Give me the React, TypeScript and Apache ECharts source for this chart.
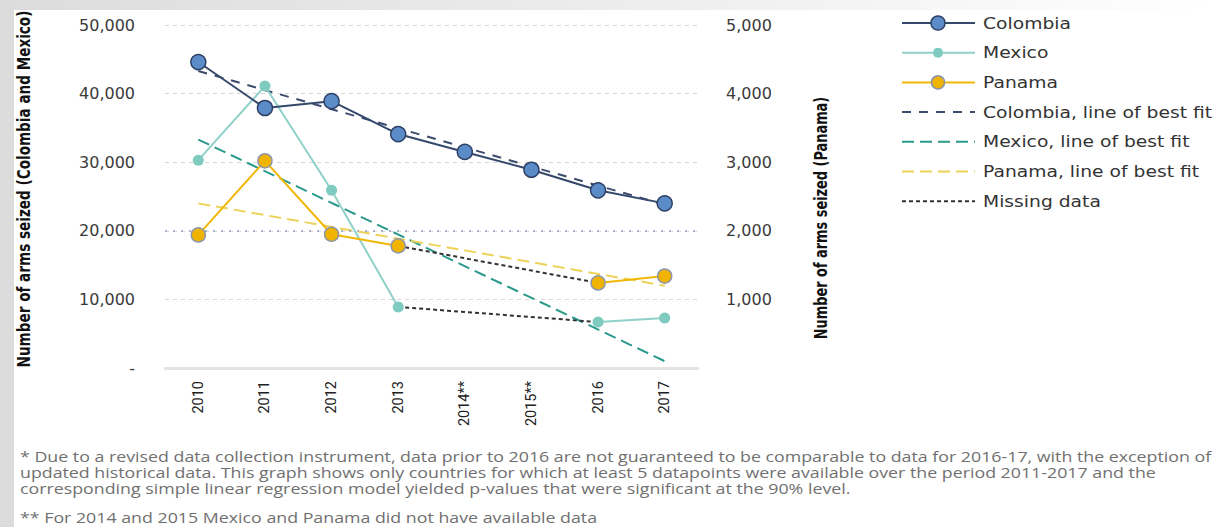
import React, { useEffect, useRef } from "react";
import * as echarts from "echarts";

const years = ["2010", "2011", "2012", "2013", "2014**", "2015**", "2016", "2017"];
const colombia = [44600, 37900, 38900, 34100, 31500, 28900, 25900, 24000];
const mexico = [30300, 41100, 25900, 8900, null, null, 6700, 7300];
const panama = [1940, 3020, 1950, 1780, null, null, 1240, 1340];
const colombiaFit = [43300, null, null, null, null, null, null, 23800];
const mexicoFit = [33300, null, null, null, null, null, null, 1000];
const panamaFit = [2400, null, null, null, null, null, null, 1200];
const mexicoMissing = [null, null, null, 8900, null, null, 6700, null];
const panamaMissing = [null, null, null, 1780, null, null, 1240, null];

const leftTicks = [0, 10000, 20000, 30000, 40000, 50000];

const legendItems = [
  { name: "Colombia", kind: "colombia" },
  { name: "Mexico", kind: "mexico" },
  { name: "Panama", kind: "panama" },
  { name: "Colombia, line of best fit", kind: "cfit" },
  { name: "Mexico, line of best fit", kind: "mfit" },
  { name: "Panama, line of best fit", kind: "pfit" },
  { name: "Missing data", kind: "missing" },
];

const footnotes = [
  "* Due to a revised data collection instrument, data prior to 2016 are not guaranteed to be comparable to data for 2016-17, with the exception of",
  "updated historical data. This graph shows only countries for which at least 5 datapoints were available over the period 2011-2017 and the",
  "corresponding simple linear regression model yielded p-values that were significant at the 90% level.",
  "** For 2014 and 2015 Mexico and Panama did not have available data",
];

const C = {
  colLine: "#34486b",
  colFill: "#5b8cc8",
  colBorder: "#2d4066",
  mexLine: "#8fd0c8",
  mexFill: "#7fcbc0",
  panLine: "#f2b705",
  panFill: "#f0b400",
  panBorder: "#8c95aa",
  colFit: "#3c4b6e",
  mexFit: "#2a9a8c",
  panFit: "#ecd35a",
  missing: "#333333",
};

const fmt = (v: number) => (v === 0 ? "-" : v.toLocaleString("en-US"));

export default function App() {
  const ref = useRef<HTMLDivElement>(null);
  useEffect(() => {
    if (!ref.current) return;
    const chart = echarts.init(ref.current, null, { renderer: "svg" });

    const legendGraphics: any[] = [];
    legendItems.forEach((it, i) => {
      const y = 23 + i * 29.7;
      let stroke = C.colLine;
      let dash: any = null;
      let circle: any = null;
      if (it.kind === "colombia") {
        stroke = C.colLine;
        circle = { r: 7, fill: C.colFill, stroke: C.colBorder, lw: 1.5 };
      } else if (it.kind === "mexico") {
        stroke = C.mexLine;
        circle = { r: 5, fill: C.mexFill, stroke: null, lw: 0 };
      } else if (it.kind === "panama") {
        stroke = C.panLine;
        circle = { r: 6.5, fill: C.panFill, stroke: C.panBorder, lw: 1.5 };
      } else if (it.kind === "cfit") {
        stroke = C.colFit;
        dash = [9, 8];
      } else if (it.kind === "mfit") {
        stroke = C.mexFit;
        dash = [12, 6];
      } else if (it.kind === "pfit") {
        stroke = C.panFit;
        dash = [12, 6];
      } else {
        stroke = C.missing;
        dash = [4, 3];
      }
      legendGraphics.push({
        type: "line",
        shape: { x1: 902, y1: y, x2: 975, y2: y },
        style: { stroke, lineWidth: 2, lineDash: dash || undefined },
      });
      if (circle) {
        legendGraphics.push({
          type: "circle",
          shape: { cx: 938, cy: y, r: circle.r },
          style: {
            fill: circle.fill,
            stroke: circle.stroke || undefined,
            lineWidth: circle.lw,
          },
        });
      }
      legendGraphics.push({
        type: "text",
        x: 983,
        y,
        scaleX: 1.17,
        style: {
          text: it.name,
          fill: "#333333",
          font: "16px 'DejaVu Sans'",
          verticalAlign: "middle",
          align: "left",
        },
      });
    });

    const footGraphics = footnotes.map((t, i) => ({
      type: "text",
      x: 20,
      y: i < 3 ? 457 + i * 16 : 518,
      scaleX: 1.27,
      style: {
        text: t,
        fill: "#707070",
        font: "14px 'Open Sans'",
        verticalAlign: "middle",
        align: "left",
      },
    }));

    const option: any = {
      animation: false,
      backgroundColor: "#ffffff",
      grid: { left: 165, right: 517, top: 25, bottom: 159 },
      xAxis: {
        type: "category",
        data: years,
        boundaryGap: true,
        axisTick: { show: false },
        axisLine: { show: true, lineStyle: { color: "#e4e4e4", width: 3 } },
        axisLabel: {
          rotate: 90,
          margin: 13,
          color: "#222222",
          fontFamily: "Roboto",
          fontSize: 14.5,
          interval: 0,
        },
      },
      yAxis: [
        {
          type: "value",
          min: 0,
          max: 50000,
          interval: 10000,
          axisLine: { show: false },
          axisTick: { show: false },
          splitLine: { show: true, lineStyle: { color: "#d6d6d6", type: [4, 4], width: 1 } },
          axisLabel: {
            margin: 30,
            color: "#3a3a3a",
            fontFamily: "'DejaVu Sans'",
            fontSize: 16,
            formatter: (v: number) => fmt(v),
          },
        },
        {
          type: "value",
          min: 0,
          max: 5000,
          interval: 1000,
          position: "right",
          axisLine: { show: false },
          axisTick: { show: false },
          splitLine: { show: false },
          axisLabel: {
            margin: 28,
            color: "#3a3a3a",
            fontFamily: "'DejaVu Sans'",
            fontSize: 16,
            formatter: (v: number) => (v === 0 ? "" : v.toLocaleString("en-US")),
          },
        },
      ],
      series: [
        {
          name: "Colombia, line of best fit",
          type: "line",
          data: colombiaFit,
          connectNulls: true,
          symbol: "none",
          yAxisIndex: 0,
          lineStyle: { color: C.colFit, width: 2, type: [9, 8] },
          markLine: {
            silent: true,
            symbol: "none",
            label: { show: false },
            lineStyle: { color: "#a9b3cb", type: [2, 6], width: 2 },
            data: [{ yAxis: leftTicks[2] }],
          },
          z: 2,
        },
        {
          name: "Mexico, line of best fit",
          type: "line",
          data: mexicoFit,
          connectNulls: true,
          symbol: "none",
          yAxisIndex: 0,
          lineStyle: { color: C.mexFit, width: 2, type: [12, 6] },
          z: 2,
        },
        {
          name: "Panama, line of best fit",
          type: "line",
          data: panamaFit,
          connectNulls: true,
          symbol: "none",
          yAxisIndex: 1,
          lineStyle: { color: C.panFit, width: 2, type: [12, 6] },
          z: 2,
        },
        {
          name: "Missing data",
          type: "line",
          data: mexicoMissing,
          connectNulls: true,
          symbol: "none",
          yAxisIndex: 0,
          lineStyle: { color: C.missing, width: 2, type: [4, 3] },
          z: 3,
        },
        {
          name: "Missing data",
          type: "line",
          data: panamaMissing,
          connectNulls: true,
          symbol: "none",
          yAxisIndex: 1,
          lineStyle: { color: C.missing, width: 2, type: [4, 3] },
          z: 3,
        },
        {
          name: "Mexico",
          type: "line",
          data: mexico,
          yAxisIndex: 0,
          symbol: "circle",
          symbolSize: 11,
          showAllSymbol: true,
          lineStyle: { color: C.mexLine, width: 2 },
          itemStyle: { color: C.mexFill, borderWidth: 0 },
          z: 4,
        },
        {
          name: "Panama",
          type: "line",
          data: panama,
          yAxisIndex: 1,
          symbol: "circle",
          symbolSize: 14,
          showAllSymbol: true,
          lineStyle: { color: C.panLine, width: 2 },
          itemStyle: { color: C.panFill, borderColor: C.panBorder, borderWidth: 1.5 },
          z: 5,
        },
        {
          name: "Colombia",
          type: "line",
          data: colombia,
          yAxisIndex: 0,
          symbol: "circle",
          symbolSize: 15,
          showAllSymbol: true,
          lineStyle: { color: C.colLine, width: 2 },
          itemStyle: { color: C.colFill, borderColor: C.colBorder, borderWidth: 1.5 },
          z: 6,
        },
      ],
      graphic: [
        {
          type: "rect",
          z: -10,
          shape: { x: 0, y: 0, width: 1215, height: 10 },
          style: {
            fill: new echarts.graphic.LinearGradient(0, 0, 1, 0, [
              { offset: 0, color: "#dcdcdc" },
              { offset: 0.55, color: "#eeeeee" },
              { offset: 1, color: "#ffffff" },
            ]),
          },
        },
        {
          type: "rect",
          z: -10,
          shape: { x: 0, y: 0, width: 14, height: 527 },
          style: { fill: "#dcdcdc" },
        },
        {
          type: "text",
          x: 24,
          y: 189,
          rotation: Math.PI / 2,
          scaleX: 0.8,
          style: {
            text: "Number of arms seized (Colombia and Mexico)",
            fill: "#111111",
            font: "bold 17px 'DejaVu Sans'",
            align: "center",
            verticalAlign: "middle",
          },
        },
        {
          type: "text",
          x: 821,
          y: 218,
          rotation: Math.PI / 2,
          scaleX: 0.76,
          style: {
            text: "Number of arms seized (Panama)",
            fill: "#111111",
            font: "bold 17px 'DejaVu Sans'",
            align: "center",
            verticalAlign: "middle",
          },
        },
        ...legendGraphics,
        ...footGraphics,
      ],
    };
    chart.setOption(option);
    return () => chart.dispose();
  }, []);
  return (
    <div
      ref={ref}
      style={{ position: "absolute", left: 0, top: 0, width: 1215, height: 527 }}
    />
  );
}
